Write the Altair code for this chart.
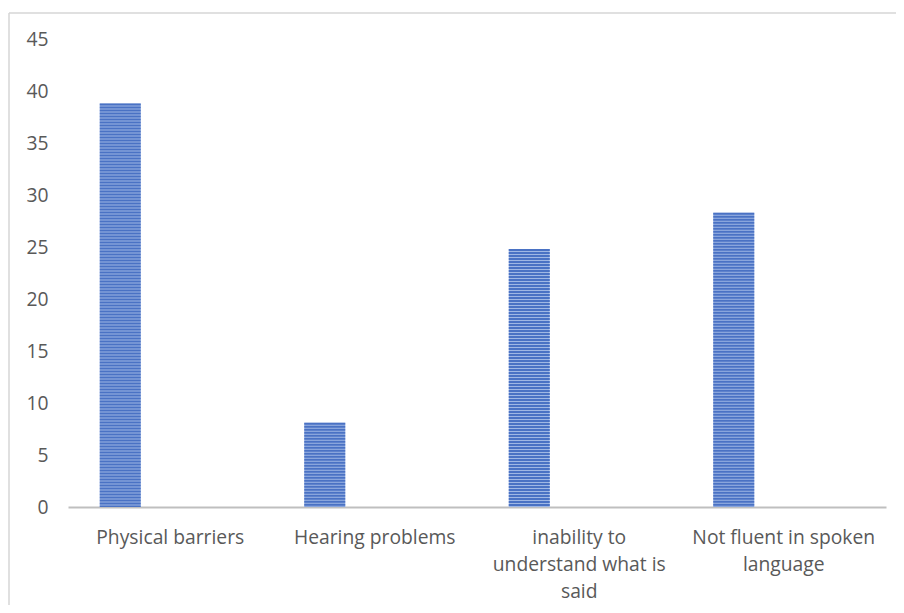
import altair as alt
import pandas as pd

categories = [
    "Physical barriers",
    "Hearing problems",
    "inability to understand what is said",
    "Not fluent in spoken language",
]
values = [38.8, 8.1, 24.8, 28.3]
label_lines = [
    ["Physical barriers"],
    ["Hearing problems"],
    ["inability to", "understand what is", "said"],
    ["Not fluent in spoken", "language"],
]
y_ticks = [0, 5, 10, 15, 20, 25, 30, 35, 40, 45]

df = pd.DataFrame({"category": categories, "value": values})

W, H = 818, 468
FONT = "Open Sans"
GRAY = "#595959"
FS = 19.3

# label expression mapping each category to its wrapped lines
parts = []
for cat, lines in zip(categories, label_lines):
    arr = "[" + ",".join("'" + l + "'" for l in lines) + "]"
    parts.append(f"datum.label == '{cat}' ? {arr}")
label_expr = " : ".join(parts) + " : datum.label"

x_enc = alt.X(
    "category:N",
    sort=categories,
    scale=alt.Scale(paddingInner=0, paddingOuter=0),
    axis=alt.Axis(
        title=None,
        labelAngle=0,
        labelExpr=label_expr,
        labelFont=FONT,
        labelFontSize=FS,
        labelColor=GRAY,
        labelLineHeight=27,
        labelPadding=21.5,
        labelLimit=400,
        ticks=False,
        domain=True,
        domainColor="#bfbfbf",
        domainWidth=2,
        grid=False,
    ),
)
y_enc = alt.Y(
    "value:Q",
    scale=alt.Scale(domain=[0, 45], nice=False),
    axis=alt.Axis(
        title=None,
        values=y_ticks,
        labelFont=FONT,
        labelFontSize=FS,
        labelColor=GRAY,
        labelPadding=20,
        ticks=False,
        domain=False,
        grid=False,
    ),
)

base = alt.Chart(df)

bars = base.mark_bar(size=41, xOffset=-50, color="#9fb7e4").encode(x=x_enc, y=y_enc)
stripes = base.mark_rule(
    strokeWidth=41, xOffset=-50, color="#4a72c4", strokeDash=[2, 1]
).encode(x=alt.X("category:N", sort=categories), y="value:Q", y2=alt.datum(0))

frame_data = alt.Data(values=[{}])
frame_top = alt.Chart(frame_data).mark_rule(
    color="#d6d6d6", strokeWidth=1.5, clip=False
).encode(x=alt.value(-59), x2=alt.value(W + 40), y=alt.value(-26))
frame_left = alt.Chart(frame_data).mark_rule(
    color="#d6d6d6", strokeWidth=1.5, clip=False
).encode(x=alt.value(-59), y=alt.value(-26), y2=alt.value(H + 120))

chart = (
    alt.layer(frame_top, frame_left, bars, stripes)
    .properties(
        width=W,
        height=H,
        autosize=alt.AutoSizeParams(type="none"),
        padding={"left": 60, "top": 31, "right": 10, "bottom": 98},
    )
    .configure_view(stroke=None)
)

chart.save("out.html", embed_options={"renderer": "svg", "actions": False})
